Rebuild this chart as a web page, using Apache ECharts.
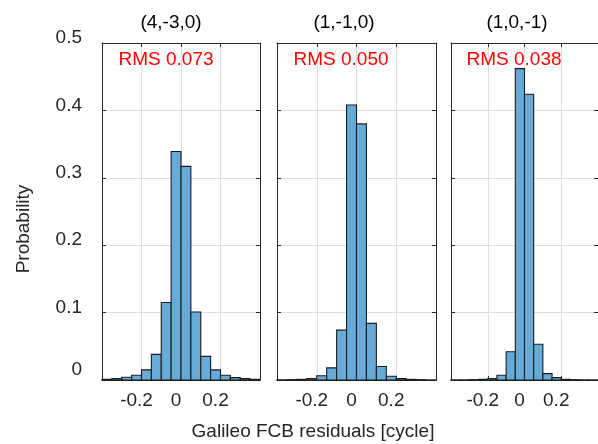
<!DOCTYPE html>
<html>
<head>
<meta charset="utf-8">
<script src="https://cdn.jsdelivr.net/npm/echarts@6/dist/echarts.min.js"></script>
<style>
  html, body { margin: 0; padding: 0; background: #fff; }
  #chart { width: 598px; height: 444px; }
</style>
</head>
<body>
<div id="chart"></div>
<script>
// Histogram bin edges (cycle)
const binEdges = [-0.4, -0.35, -0.3, -0.25, -0.2, -0.15, -0.1, -0.05, 0,
                  0.05, 0.1, 0.15, 0.2, 0.25, 0.3, 0.35, 0.4];

// Probability per bin for each combination
const prob403 = [0.001, 0.002, 0.004, 0.007, 0.015, 0.038, 0.115, 0.339,
                 0.317, 0.101, 0.035, 0.015, 0.007, 0.0035, 0.002, 0.001];
const prob110 = [0.0003, 0.0005, 0.001, 0.002, 0.0064, 0.018, 0.074, 0.408,
                 0.380, 0.084, 0.020, 0.0055, 0.002, 0.001, 0.0005, 0.0002];
const prob101 = [0.0002, 0.0003, 0.0005, 0.001, 0.002, 0.007, 0.042, 0.462,
                 0.424, 0.053, 0.0094, 0.0035, 0.001, 0.0005, 0.0003, 0.0002];

const panelTitles = ['(4,-3,0)', '(1,-1,0)', '(1,0,-1)'];
const rmsLabels = ['RMS 0.073', 'RMS 0.050', 'RMS 0.038'];
const xTickValues = [-0.2, 0, 0.2];
const yTickValues = [0, 0.1, 0.2, 0.3, 0.4, 0.5];

const xLabel = 'Galileo FCB residuals [cycle]';
const yLabel = 'Probability';

const series3 = [prob403, prob110, prob101];

const FONT = '"Liberation Sans", Arial, Helvetica, sans-serif';
const TEXT = '#262626';
const GRIDLINE = '#dedede';
const FS = 19;

const grids = [
  { left: 102, top: 43, width: 158, height: 337 },
  { left: 277, top: 43, width: 159, height: 337 },
  { left: 451, top: 43, width: 158, height: 337 }
];
const titlePos = [171, 344, 517];
const rmsPos = [166, 341, 514];

function histData(values) {
  return values.map((v, i) => [binEdges[i], binEdges[i + 1], v]);
}

function renderBin(params, api) {
  const x0 = api.value(0), x1 = api.value(1), y = api.value(2);
  const pTop = api.coord([x0, y]);
  const pBot = api.coord([x1, 0]);
  return {
    type: 'rect',
    shape: { x: pTop[0], y: pTop[1], width: pBot[0] - pTop[0], height: pBot[1] - pTop[1] },
    style: { fill: '#66aad7', stroke: '#1c1c1c', lineWidth: 1.1 }
  };
}

const boxLine = { show: true, onZero: false, lineStyle: { color: TEXT, width: 1 } };
const innerTick = { show: true, inside: true, length: 4, lineStyle: { color: TEXT } };

const xAxes = [], yAxes = [], series = [];
grids.forEach((g, i) => {
  // bottom x axis with labels and vertical gridlines
  xAxes.push({
    type: 'value', gridIndex: i, position: 'bottom',
    min: -0.4, max: 0.4, interval: 0.2,
    axisLine: boxLine,
    axisTick: innerTick,
    axisLabel: {
      show: true, showMinLabel: false, showMaxLabel: false, margin: 11,
      color: TEXT, fontSize: FS, fontFamily: FONT, padding: [0, 10, 0, 0],
      formatter: v => (xTickValues.some(t => Math.abs(t - v) < 1e-9) ? String(Math.round(v * 10) / 10) : '')
    },
    splitLine: { show: true, lineStyle: { color: GRIDLINE, width: 1 } }
  });
  // top x axis: box edge + inner ticks
  xAxes.push({
    type: 'value', gridIndex: i, position: 'top',
    min: -0.4, max: 0.4, interval: 0.2,
    axisLine: boxLine,
    axisTick: innerTick,
    axisLabel: { show: false },
    splitLine: { show: false }
  });
  // left y axis
  yAxes.push({
    type: 'value', gridIndex: i, position: 'left',
    min: 0, max: 0.5, interval: 0.1,
    axisLine: boxLine,
    axisTick: innerTick,
    axisLabel: {
      show: i === 0, margin: 20, color: TEXT, fontSize: FS, fontFamily: FONT,
      formatter: v => {
        const s = String(Math.round(v * 10) / 10);
        return v === 0 ? '{z|' + s + '}' : '{n|' + s + '}';
      },
      rich: {
        n: { fontSize: FS, fontFamily: FONT, color: TEXT, padding: [0, 0, 10, 0] },
        z: { fontSize: FS, fontFamily: FONT, color: TEXT, padding: [0, 0, 20, 0] }
      }
    },
    splitLine: { show: true, lineStyle: { color: GRIDLINE, width: 1 } }
  });
  // right y axis: box edge + inner ticks
  yAxes.push({
    type: 'value', gridIndex: i, position: 'right',
    min: 0, max: 0.5, interval: 0.1,
    axisLine: boxLine,
    axisTick: innerTick,
    axisLabel: { show: false },
    splitLine: { show: false }
  });
  series.push({
    type: 'custom',
    xAxisIndex: i * 2,
    yAxisIndex: i * 2,
    renderItem: renderBin,
    encode: { x: [0, 1], y: 2 },
    data: histData(series3[i]),
    z: 2,
    silent: true
  });
});

const graphics = [];
panelTitles.forEach((t, i) => {
  graphics.push({
    type: 'text', x: titlePos[i], y: 23,
    style: { text: t, fill: '#000', font: FS + 'px ' + FONT, textAlign: 'center', textVerticalAlign: 'middle' }
  });
  graphics.push({
    type: 'text', x: rmsPos[i], y: 60, z: 10,
    style: { text: rmsLabels[i], fill: '#ff0000', font: '19px ' + FONT, textAlign: 'center', textVerticalAlign: 'middle' }
  });
});
graphics.push({
  type: 'text', x: 313, y: 432,
  style: { text: xLabel, fill: TEXT, font: FS + 'px ' + FONT, textAlign: 'center', textVerticalAlign: 'middle' }
});
graphics.push({
  type: 'text', x: 24, y: 229, rotation: Math.PI / 2,
  style: { text: yLabel, fill: TEXT, font: FS + 'px ' + FONT, textAlign: 'center', textVerticalAlign: 'middle' }
});

const chart = echarts.init(document.getElementById('chart'), null, { renderer: 'canvas' });
chart.setOption({
  animation: false,
  backgroundColor: '#ffffff',
  grid: grids.map(g => Object.assign({ containLabel: false }, g)),
  xAxis: xAxes,
  yAxis: yAxes,
  series: series,
  graphic: graphics
});
</script>
</body>
</html>
